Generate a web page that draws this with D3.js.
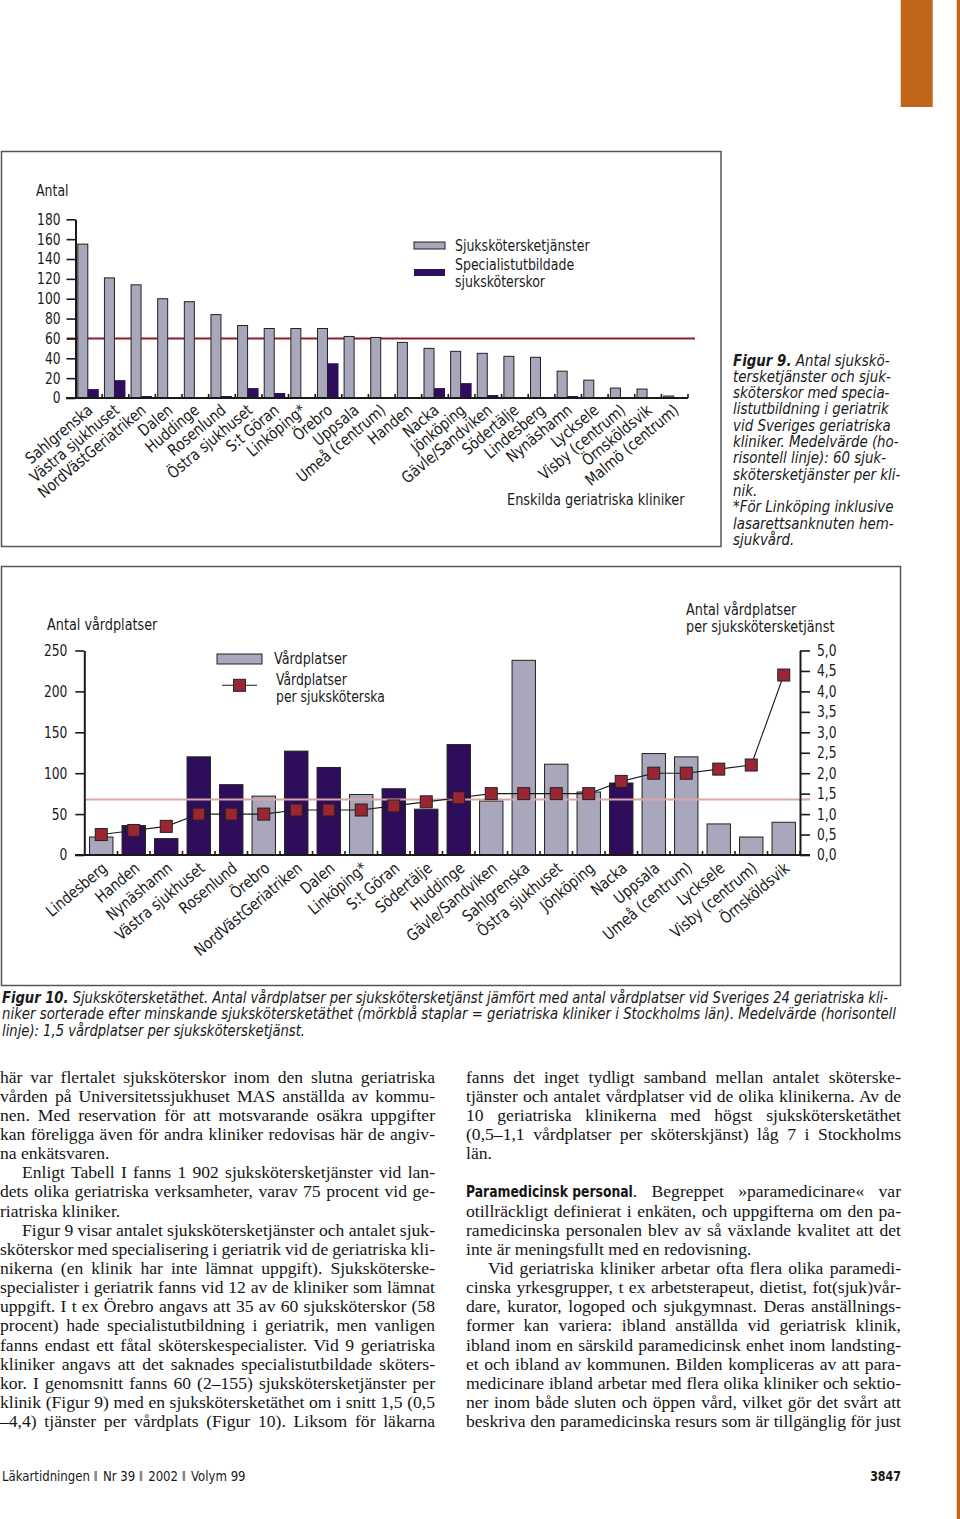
<!DOCTYPE html>
<html><head><meta charset="utf-8">
<script src="https://cdn.jsdelivr.net/npm/d3@7"></script>
<style>
body{margin:0;background:#fff;}
#page{position:relative;width:960px;height:1519px;overflow:hidden;background:#fff;}
#page svg{position:absolute;left:0;top:0;}
.ln{position:absolute;font-family:"Liberation Serif","Times New Roman",serif;font-size:17.6px;line-height:19.15px;text-align:justify;color:#151515;white-space:normal;}
.ln .bh{display:inline-block;white-space:nowrap;vertical-align:baseline;}
.ln .bh span{display:inline-block;font-family:"DejaVu Sans Condensed","Liberation Sans",sans-serif;font-weight:bold;font-size:16px;transform:scaleX(0.86);transform-origin:0 50%;}
</style></head><body><div id="page"></div>
<script>
// ---------- DATA: Figur 9 ----------
const fig9Categories = ["Sahlgrenska","Västra sjukhuset","NordVästGeriatriken","Dalen","Huddinge","Rosenlund","Östra sjukhuset","S:t Göran","Linköping*","Örebro","Uppsala","Umeå (centrum)","Handen","Nacka","Jönköping","Gävle/Sandviken","Södertälje","Lindesberg","Nynäshamn","Lycksele","Visby (centrum)","Örnsköldsvik","Malmö (centrum)"];
const fig9Nurses = [155,121,114,100,97,84,73,70,70,70,62,61,56,50,47,45,42,41,27,18,10,9,2];
const fig9Specialists = [9,18,2,0,0,2,10,5,0,35,0,0,0,10,15,3,1,0,2,0,0,0,0];
const fig9Mean = 60;
const fig9Ticks = [0,20,40,60,80,100,120,140,160,180];
const fig9Legend = ["Sjukskötersketjänster","Specialistutbildade","sjuksköterskor"];

// ---------- DATA: Figur 10 ----------
const fig10Categories = ["Lindesberg","Handen","Nynäshamn","Västra sjukhuset","Rosenlund","Örebro","NordVästGeriatriken","Dalen","Linköping*","S:t Göran","Södertälje","Huddinge","Gävle/Sandviken","Sahlgrenska","Östra sjukhuset","Jönköping","Nacka","Uppsala","Umeå (centrum)","Lycksele","Visby (centrum)","Örnsköldsvik"];
const fig10Beds = [22,36,20,120,86,72,127,107,74,81,56,135,66,238,111,77,88,124,120,38,22,40];
const fig10Stockholm = [0,1,1,1,1,0,1,1,0,1,1,1,0,0,0,0,1,0,0,0,0,0];
const fig10BedsPerNurse = [0.5,0.6,0.7,1.0,1.0,1.0,1.1,1.1,1.1,1.2,1.3,1.4,1.5,1.5,1.5,1.5,1.8,2.0,2.0,2.1,2.2,4.4];
const fig10Mean = 1.36;
const fig10LeftTicks = [0,50,100,150,200,250];
const fig10RightTicks = [0,0.5,1,1.5,2,2.5,3,3.5,4,4.5,5];

const COND = '"Liberation Sans Narrow","DejaVu Sans Condensed","Arial Narrow",sans-serif';
const GREY = "#a8a7bb", DARK = "#2e0d5b", ORANGE = "#c0661b", INK = "#1a1a1a";

const page = d3.select("#page");
const svg = page.append("svg").attr("width",960).attr("height",1519)
  .style("font-family",COND).attr("fill",INK);

function condense(sel, f){
  sel.each(function(){
    const w = this.getComputedTextLength();
    this.setAttribute("textLength", (w*f).toFixed(2));
    this.setAttribute("lengthAdjust","spacingAndGlyphs");
  });
}

// decorative page elements
svg.append("rect").attr("x",900.7).attr("y",0).attr("width",32).attr("height",107).attr("fill",ORANGE);
svg.append("rect").attr("x",956.7).attr("y",0).attr("width",3.3).attr("height",1519).attr("fill",ORANGE);

// ================= FIGUR 9 =================
svg.append("rect").attr("x",1.5).attr("y",151.5).attr("width",719.5).attr("height",395)
  .attr("fill","none").attr("stroke","#555").attr("stroke-width",1.5);
const g9 = svg.append("g");
const y9 = d3.scaleLinear().domain([0,180]).range([398,219.3]);
const x9 = d3.scaleBand().domain(fig9Categories).range([75.5,688]);

g9.append("line").attr("x1",67).attr("x2",695).attr("y1",y9(fig9Mean)).attr("y2",y9(fig9Mean))
  .attr("stroke","#8c1c2c").attr("stroke-width",2);

g9.selectAll("rect.nurse").data(fig9Categories).join("rect").attr("class","nurse")
  .attr("x",d=>x9(d)+2.3).attr("width",10)
  .attr("y",(d,i)=>y9(fig9Nurses[i])).attr("height",(d,i)=>y9(0)-y9(fig9Nurses[i]))
  .attr("fill",GREY).attr("stroke","#222").attr("stroke-width",1);
g9.selectAll("rect.spec").data(fig9Categories.filter((d,i)=>fig9Specialists[i]>0)).join("rect").attr("class","spec")
  .attr("x",d=>x9(d)+12.3).attr("width",11)
  .attr("y",d=>y9(fig9Specialists[fig9Categories.indexOf(d)]))
  .attr("height",d=>y9(0)-y9(fig9Specialists[fig9Categories.indexOf(d)]))
  .attr("fill",DARK);

const ax9 = g9.append("g").attr("transform","translate(75.5,0)")
  .call(d3.axisLeft(y9).tickValues(fig9Ticks).tickSize(9).tickSizeOuter(0).tickPadding(6));
ax9.select(".domain").attr("stroke",INK).attr("stroke-width",2);
ax9.selectAll(".tick line").attr("stroke",INK).attr("stroke-width",1.6);
ax9.selectAll(".tick text").attr("font-family",COND).attr("font-size",15.5).attr("fill",INK);
condense(ax9.selectAll(".tick text"),0.88);
g9.append("line").attr("x1",66).attr("x2",688).attr("y1",y9(0)).attr("y2",y9(0)).attr("stroke",INK).attr("stroke-width",2);
g9.selectAll("line.bt").data(fig9Categories).join("line").attr("class","bt")
  .attr("x1",d=>x9(d)+x9.step()).attr("x2",d=>x9(d)+x9.step())
  .attr("y1",y9(0)).attr("y2",y9(0)-4).attr("stroke",INK).attr("stroke-width",1.6);
const cat9 = g9.selectAll("text.cat").data(fig9Categories).join("text").attr("class","cat")
  .attr("transform",d=>`translate(${x9(d)+x9.step()/2+5},412) rotate(-40)`)
  .attr("text-anchor","end").attr("font-size",16).text(d=>d);
condense(cat9,0.93);

const t9 = [];
t9.push(g9.append("text").attr("x",36).attr("y",196).attr("font-size",16).text("Antal"));
t9.push(g9.append("text").attr("x",507).attr("y",505).attr("font-size",16.5).text("Enskilda geriatriska kliniker"));
g9.append("rect").attr("x",414).attr("y",242).attr("width",31).attr("height",7).attr("fill",GREY).attr("stroke","#222");
g9.append("rect").attr("x",414).attr("y",269).attr("width",31).attr("height",7).attr("fill",DARK);
t9.push(g9.append("text").attr("x",455).attr("y",250.5).attr("font-size",16).text(fig9Legend[0]));
t9.push(g9.append("text").attr("x",455).attr("y",270).attr("font-size",16).text(fig9Legend[1]));
t9.push(g9.append("text").attr("x",455).attr("y",287).attr("font-size",16).text(fig9Legend[2]));
t9.forEach(t=>condense(t,0.87));

// caption 9
const cap9 = ["|Antal sjukskö-","tersketjänster och sjuk-","sköterskor med specia-","listutbildning i geriatrik","vid Sveriges geriatriska","kliniker. Medelvärde (ho-","risontell linje): 60 sjuk-","skötersketjänster per kli-","nik.","*För Linköping inklusive","lasarettsanknuten hem-","sjukvård."];
const c9 = svg.append("g").attr("font-style","italic").attr("font-size",15.5);
cap9.forEach((l,i)=>{
  const t = c9.append("text").attr("x",733).attr("y",365.5+i*16.3);
  if(l.startsWith("|")){ t.append("tspan").attr("font-weight","bold").text("Figur 9."); t.append("tspan").text(" "+l.slice(1)); }
  else t.text(l);
  condense(t,0.96);
});

// ================= FIGUR 10 =================
svg.append("rect").attr("x",1.5).attr("y",566.5).attr("width",899).attr("height",419)
  .attr("fill","none").attr("stroke","#555").attr("stroke-width",1.5);
const g10 = svg.append("g");
const yL = d3.scaleLinear().domain([0,250]).range([855,650.5]);
const yR = d3.scaleLinear().domain([0,5]).range([855,650.5]);
const x10 = d3.scaleBand().domain(fig10Categories).range([85,800]).paddingInner(0.28).paddingOuter(0.14);
const cx = d=>x10(d)+x10.bandwidth()/2;

g10.selectAll("rect.bed").data(fig10Categories).join("rect").attr("class","bed")
  .attr("x",d=>x10(d)).attr("width",x10.bandwidth())
  .attr("y",(d,i)=>yL(fig10Beds[i])).attr("height",(d,i)=>yL(0)-yL(fig10Beds[i]))
  .attr("fill",(d,i)=>fig10Stockholm[i]?DARK:GREY).attr("stroke","#222").attr("stroke-width",1);

g10.append("line").attr("x1",84).attr("x2",810).attr("y1",yR(fig10Mean)).attr("y2",yR(fig10Mean))
  .attr("stroke","#dca5a5").attr("stroke-width",2);

const axL = g10.append("g").attr("transform","translate(84.3,0)")
  .call(d3.axisLeft(yL).tickValues(fig10LeftTicks).tickSize(9).tickSizeOuter(0).tickPadding(8));
const axR = g10.append("g").attr("transform","translate(800,0)")
  .call(d3.axisRight(yR).tickValues(fig10RightTicks).tickSize(10).tickSizeOuter(0).tickPadding(7)
    .tickFormat(v=>d3.format(".1f")(v).replace(".",",")));
[axL,axR].forEach(a=>{
  a.select(".domain").attr("stroke",INK).attr("stroke-width",2);
  a.selectAll(".tick line").attr("stroke",INK).attr("stroke-width",1.6);
  a.selectAll(".tick text").attr("font-family",COND).attr("font-size",15.5).attr("fill",INK);
  condense(a.selectAll(".tick text"),0.88);
});
g10.append("line").attr("x1",75).attr("x2",810).attr("y1",yL(0)).attr("y2",yL(0)).attr("stroke",INK).attr("stroke-width",2);
g10.selectAll("line.bt").data(fig10Categories).join("line").attr("class","bt")
  .attr("x1",d=>x10(d)+x10.bandwidth()+x10.step()*0.14).attr("x2",d=>x10(d)+x10.bandwidth()+x10.step()*0.14)
  .attr("y1",yL(0)).attr("y2",yL(0)-4).attr("stroke",INK).attr("stroke-width",1.6);

const lineGen = d3.line().x(d=>cx(d)).y(d=>yR(fig10BedsPerNurse[fig10Categories.indexOf(d)]));
g10.append("path").attr("d",lineGen(fig10Categories)).attr("fill","none").attr("stroke",INK).attr("stroke-width",1.1);
g10.selectAll("rect.mk").data(fig10Categories).join("rect").attr("class","mk")
  .attr("x",d=>cx(d)-6).attr("y",(d,i)=>yR(fig10BedsPerNurse[i])-6).attr("width",12).attr("height",12)
  .attr("fill","#9a2533").attr("stroke","#222").attr("stroke-width",1);

const cat10 = g10.selectAll("text.cat").data(fig10Categories).join("text").attr("class","cat")
  .attr("transform",d=>`translate(${cx(d)+7},870) rotate(-40)`)
  .attr("text-anchor","end").attr("font-size",16).text(d=>d);
condense(cat10,0.93);

const t10 = [];
t10.push(g10.append("text").attr("x",47).attr("y",630).attr("font-size",16).text("Antal vårdplatser"));
t10.push(g10.append("text").attr("x",686).attr("y",615).attr("font-size",16).text("Antal vårdplatser"));
t10.push(g10.append("text").attr("x",686).attr("y",632).attr("font-size",16).text("per sjukskötersketjänst"));
g10.append("rect").attr("x",217).attr("y",654).attr("width",45).attr("height",10).attr("fill",GREY).attr("stroke","#222");
g10.append("line").attr("x1",222).attr("x2",257).attr("y1",685.3).attr("y2",685.3).attr("stroke",INK).attr("stroke-width",1.1);
g10.append("rect").attr("x",233.5).attr("y",679.3).attr("width",12).attr("height",12).attr("fill","#9a2533").attr("stroke","#222");
t10.push(g10.append("text").attr("x",274).attr("y",664).attr("font-size",16).text("Vårdplatser"));
t10.push(g10.append("text").attr("x",276).attr("y",684.5).attr("font-size",15.5).text("Vårdplatser"));
t10.push(g10.append("text").attr("x",276).attr("y",701.5).attr("font-size",15.5).text("per sjuksköterska"));
t10.forEach(t=>condense(t,0.89));

// caption 10
const cap10 = [
 ["Figur 10.", " Sjukskötersketäthet. Antal vårdplatser per sjukskötersketjänst jämfört med antal vårdplatser vid Sveriges 24 geriatriska kli-", 886],
 ["", "niker sorterade efter minskande sjukskötersketäthet (mörkblå staplar = geriatriska kliniker i Stockholms län). Medelvärde (horisontell", 894],
 ["", "linje): 1,5 vårdplatser per sjukskötersketjänst.", 303]
];
const c10 = svg.append("g").attr("font-style","italic").attr("font-size",15);
cap10.forEach((l,i)=>{
  const t = c10.append("text").attr("x",2).attr("y",1003+i*16.3);
  if(l[0]) t.append("tspan").attr("font-weight","bold").text(l[0]);
  t.append("tspan").text(l[1]);
  t.attr("textLength",l[2]).attr("lengthAdjust","spacingAndGlyphs");
});

// footer: separate texts with small grey separator bars
const footParts = ["Läkartidningen","Nr 39","2002","Volym 99"];
let fx = 2;
footParts.forEach((s,i)=>{
  if(i){
    svg.append("rect").attr("x",fx+4.5).attr("y",1471).attr("width",2.6).attr("height",10).attr("fill","#8a8a8a");
    fx += 13;
  }
  const t = svg.append("text").attr("x",fx).attr("y",1481).attr("font-size",14.5).text(s);
  const w = t.node().getComputedTextLength()*0.9;
  t.attr("textLength",w.toFixed(2)).attr("lengthAdjust","spacingAndGlyphs");
  fx += w;
});
const pn = svg.append("text").attr("x",901).attr("y",1481).attr("text-anchor","end").attr("font-size",14.5).attr("font-weight","bold").text("3847");
condense(pn,0.85);

// ================= BODY TEXT =================
const leftLines = [
 ["här var flertalet sjuksköterskor inom den slutna geriatriska",0,0],
 ["vården på Universitetssjukhuset MAS anställda av kommu-",0,0],
 ["nen. Med reservation för att motsvarande osäkra uppgifter",0,0],
 ["kan föreligga även för andra kliniker redovisas här de angiv-",0,0],
 ["na enkätsvaren.",0,1],
 ["Enligt Tabell I fanns 1 902 sjukskötersketjänster vid lan-",1,0],
 ["dets olika geriatriska verksamheter, varav 75 procent vid ge-",0,0],
 ["riatriska kliniker.",0,1],
 ["Figur 9 visar antalet sjukskötersketjänster och antalet sjuk-",1,0],
 ["sköterskor med specialisering i geriatrik vid de geriatriska kli-",0,0],
 ["nikerna (en klinik har inte lämnat uppgift). Sjuksköterske-",0,0],
 ["specialister i geriatrik fanns vid 12 av de kliniker som lämnat",0,0],
 ["uppgift. I t ex Örebro angavs att 35 av 60 sjuksköterskor (58",0,0],
 ["procent) hade specialistutbildning i geriatrik, men vanligen",0,0],
 ["fanns endast ett fåtal sköterskespecialister. Vid 9 geriatriska",0,0],
 ["kliniker angavs att det saknades specialistutbildade sköters-",0,0],
 ["kor. I genomsnitt fanns 60 (2–155) sjukskötersketjänster per",0,0],
 ["klinik (Figur 9) med en sjukskötersketäthet om i snitt 1,5 (0,5",0,0],
 ["–4,4) tjänster per vårdplats (Figur 10). Liksom för läkarna",0,0]
];
const rightLines = [
 ["fanns det inget tydligt samband mellan antalet sköterske-",0,0],
 ["tjänster och antalet vårdplatser vid de olika klinikerna. Av de",0,0],
 ["10 geriatriska klinikerna med högst sjukskötersketäthet",0,0],
 ["(0,5–1,1 vårdplatser per sköterskjänst) låg 7 i Stockholms",0,0],
 ["län.",0,1],
 null,
 ["<span class=\"bh\"><span>Paramedicinsk personal</span></span>. Begreppet »paramedicinare« var",0,0],
 ["otillräckligt definierat i enkäten, och uppgifterna om den pa-",0,0],
 ["ramedicinska personalen blev av så växlande kvalitet att det",0,0],
 ["inte är meningsfullt med en redovisning.",0,1],
 ["Vid geriatriska kliniker arbetar ofta flera olika paramedi-",1,0],
 ["cinska yrkesgrupper, t ex arbetsterapeut, dietist, fot(sjuk)vår-",0,0],
 ["dare, kurator, logoped och sjukgymnast. Deras anställnings-",0,0],
 ["former kan variera: ibland anställda vid geriatrisk klinik,",0,0],
 ["ibland inom en särskild paramedicinsk enhet inom landsting-",0,0],
 ["et och ibland av kommunen. Bilden kompliceras av att para-",0,0],
 ["medicinare ibland arbetar med flera olika kliniker och sektio-",0,0],
 ["ner inom både sluten och öppen vård, vilket gör det svårt att",0,0],
 ["beskriva den paramedicinska resurs som är tillgänglig för just",0,0]
];
function placeLines(lines, x0, width){
  const LH = 19.15, top0 = 1067.5;
  lines.forEach((ln,i)=>{
    if(!ln) return;
    const ind = ln[1] ? 22 : 0;
    const d = page.append("div").attr("class","ln")
      .style("left",(x0+ind)+"px").style("top",(top0+i*LH)+"px").style("width",(width-ind)+"px")
      .style("text-align-last", ln[2] ? "left" : "justify").html(ln[0]);
    const node = d.node();
    node.querySelectorAll(".bh").forEach(b=>{
      const inner = b.firstElementChild;
      b.style.width = (inner.getBoundingClientRect().width).toFixed(2)+"px";
    });
    let ws = 0, ls = 0;
    while(node.offsetHeight > LH*1.5 && ws > -2.5){ ws -= 0.1; node.style.wordSpacing = ws+"px"; }
    while(node.offsetHeight > LH*1.5 && ls > -2){ ls -= 0.05; node.style.letterSpacing = ls+"px"; }
  });
}
placeLines(leftLines, 0, 435);
placeLines(rightLines, 466, 435);
</script></body></html>
